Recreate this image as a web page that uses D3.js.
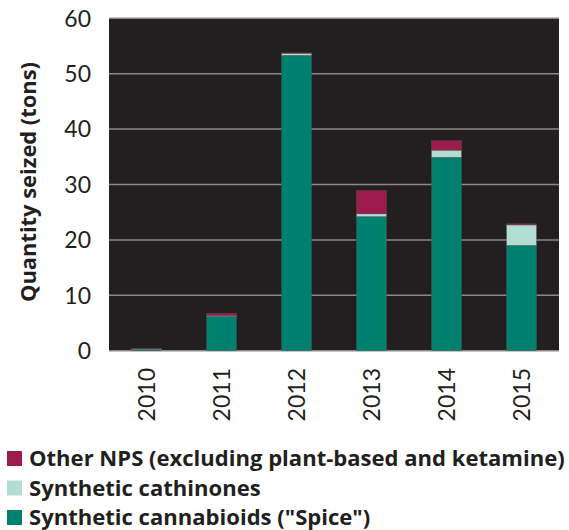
<!DOCTYPE html>
<html><head><meta charset="utf-8">
<script src="https://cdn.jsdelivr.net/npm/d3@7"></script>
<style>body{margin:0;background:#fff}svg{display:block}text{font-family:Lato,"Liberation Sans",sans-serif;fill:#231f20}</style>
</head><body><svg id="c" width="569" height="530"></svg>
<script>
const years = ["2010","2011","2012","2013","2014","2015"];
const cannabinoids = [0.2, 6.2, 53.3, 24.2, 34.9, 19.0];
const cathinones = [0.1, 0.15, 0.4, 0.5, 1.3, 3.7];
const otherNPS = [0.05, 0.4, 0.05, 4.2, 1.7, 0.2];
const seriesNames = ["Other NPS (excluding plant-based and ketamine)", "Synthetic cathinones", "Synthetic cannabioids (\"Spice\")"];
const yTicks = [0,10,20,30,40,50,60];

const colors = {cann:"#00806f", cath:"#b2ddd3", other:"#9e1b4e"};
const svg = d3.select("#c");
const L=109, R=559, T=18.3, B=350.7;
const x = d3.scaleBand().domain(years).range([L,R]).paddingInner(0.6).paddingOuter(0.3);
const y = d3.scaleLinear().domain([0,60]).range([B,T]);

svg.append("rect").attr("x",L).attr("y",T).attr("width",R-L).attr("height",B-T).attr("fill","#231f20");
svg.append("g").selectAll("line").data(yTicks).join("line")
  .attr("x1",L).attr("x2",R).attr("y1",d=>y(d)).attr("y2",d=>y(d))
  .attr("stroke","#8a8a8a").attr("stroke-width",1.5);

const data = years.map((yr,i)=>({year:yr, cann:cannabinoids[i], cath:cathinones[i], other:otherNPS[i]}));
const stack = d3.stack().keys(["cann","cath","other"])(data);
svg.append("g").selectAll("g").data(stack).join("g").attr("fill",s=>colors[s.key])
  .selectAll("rect").data(s=>s).join("rect")
  .attr("x",d=>x(d.data.year)).attr("width",x.bandwidth())
  .attr("y",d=>y(d[1])).attr("height",d=>y(d[0])-y(d[1]))
  .attr("stroke","#555").attr("stroke-width",0.4);

// y axis labels
svg.append("g").selectAll("text").data(yTicks).join("text")
  .attr("x",91).attr("y",d=>y(d)).attr("dy","0.36em").attr("text-anchor","end")
  .style("font-size","23px").text(d=>d);

// x labels
svg.append("g").selectAll("text").data(years).join("text")
  .attr("transform",d=>`translate(${x(d)+x.bandwidth()/2},368) rotate(-90)`)
  .attr("dy","0.36em").attr("text-anchor","end").style("font-size","23px").text(d=>d);

// y title
const yt = svg.append("text").attr("transform","translate(28,182) rotate(-90)")
  .attr("text-anchor","middle").attr("dy","0.36em").style("font-family","'Open Sans',sans-serif")
  .style("font-size","20px").style("font-weight","bold")
  .text("Quantity seized (tons)");
const ytw = yt.node().getComputedTextLength();
yt.style("font-size", (20*240/ytw)+"px");

// legend
const legColors=[colors.other,colors.cath,colors.cann];
const lg = svg.append("g").selectAll("g").data(seriesNames).join("g")
  .attr("transform",(d,i)=>`translate(7,${451+i*29.5})`);
lg.append("rect").attr("width",15).attr("height",15).attr("fill",(d,i)=>legColors[i]);
const lt = lg.append("text").attr("x",22).attr("y",15).style("font-family","'Open Sans',sans-serif")
  .style("font-size","20px").style("font-weight","bold").text(d=>d);
const w0 = lt.nodes()[0].getComputedTextLength();
lt.style("font-size", (20*536/w0)+"px");
</script></body></html>
